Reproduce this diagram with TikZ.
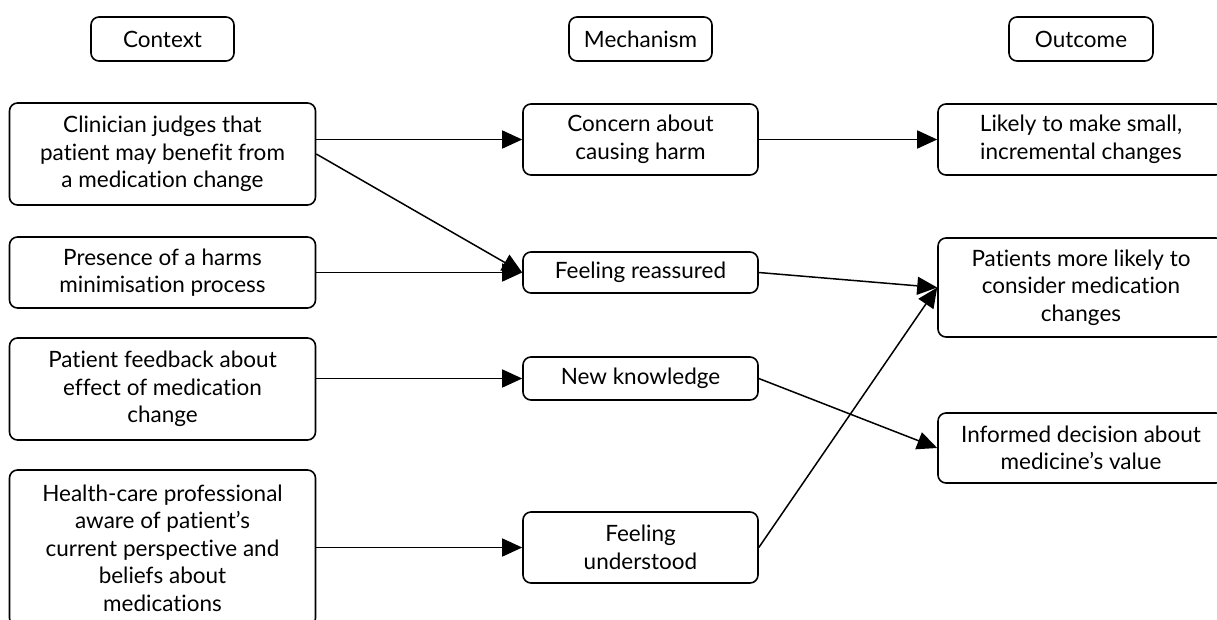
\documentclass[tikz,border=0pt]{standalone}
\usepackage{fontspec}
\setmainfont{Lato}[Ligatures={NoCommon}]
\usetikzlibrary{arrows.meta}

\tikzset{
  box/.style={draw, line width=1.6pt, rounded corners=8pt, align=center,
    inner sep=0pt, font=\fontsize{22.5}{27.5}\selectfont, text=black},
  headbox/.style={box, minimum width=143pt, minimum height=44pt},
  leftbox/.style={box, minimum width=306pt},
  midbox/.style={box, minimum width=235pt},
  rightbox/.style={box, minimum width=286pt},
  link/.style={line width=1.5pt, -{Triangle[length=20pt,width=18pt]}}
}

\begin{document}
\begin{tikzpicture}[x=1pt, y=-1pt]
  \useasboundingbox (0,0) rectangle (1217,619);
  \clip (0,0) rectangle (1217,619);

  % column headers
  \node[headbox] (hctx) at (162.5,39) {Context};
  \node[headbox] (hmech) at (640.5,39) {Mechanism};
  \node[headbox, minimum width=144pt] (hout) at (1081,39) {Outcome};

  % contexts
  \node[leftbox, minimum height=102pt] (clin) at (162.5,154)
    {Clinician judges that\\patient may benefit from\\a medication change};
  \node[leftbox, minimum height=71pt] (pres) at (162.5,272.5)
    {Presence of a harms\\minimisation process};
  \node[leftbox, minimum height=102pt] (feed) at (162.5,389)
    {Patient feedback about\\effect of medication\\change};
  \node[leftbox, minimum height=156pt] (hcp) at (162.5,548)
    {Health-care professional\\aware of patient’s\\current perspective and\\beliefs about\\medications};

  % mechanisms
  \node[midbox, minimum height=71pt] (harm) at (640.5,139.5)
    {Concern about\\causing harm};
  \node[midbox, minimum height=41pt] (reass) at (640.5,272.5)
    {Feeling reassured};
  \node[midbox, minimum height=43pt] (know) at (640.5,378.5)
    {New knowledge};
  \node[midbox, minimum height=71pt] (under) at (640.5,547.5)
    {Feeling\\understood};

  % outcomes
  \node[rightbox, minimum height=71pt] (small) at (1081,139.5)
    {Likely to make small,\\incremental changes};
  \node[rightbox, minimum height=99pt] (consider) at (1081,287.5)
    {Patients more likely to\\consider medication\\changes};
  \node[rightbox, minimum height=70pt] (informed) at (1081,448)
    {Informed decision about\\medicine’s value};

  % links
  \draw[link] (clin.east |- harm.west) -- (harm.west);
  \draw[link] (clin.east) -- (reass.west);
  \draw[link] (pres.east) -- (reass.west);
  \draw[link] (feed.east |- know.west) -- (know.west);
  \draw[link] (hcp.east |- under.west) -- (under.west);
  \draw[link] (harm.east) -- (small.west);
  \draw[link] (reass.east) -- (consider.west);
  \draw[link] (know.east) -- (informed.west);
  \draw[link] (under.east) -- (consider.west);
\end{tikzpicture}
\end{document}
